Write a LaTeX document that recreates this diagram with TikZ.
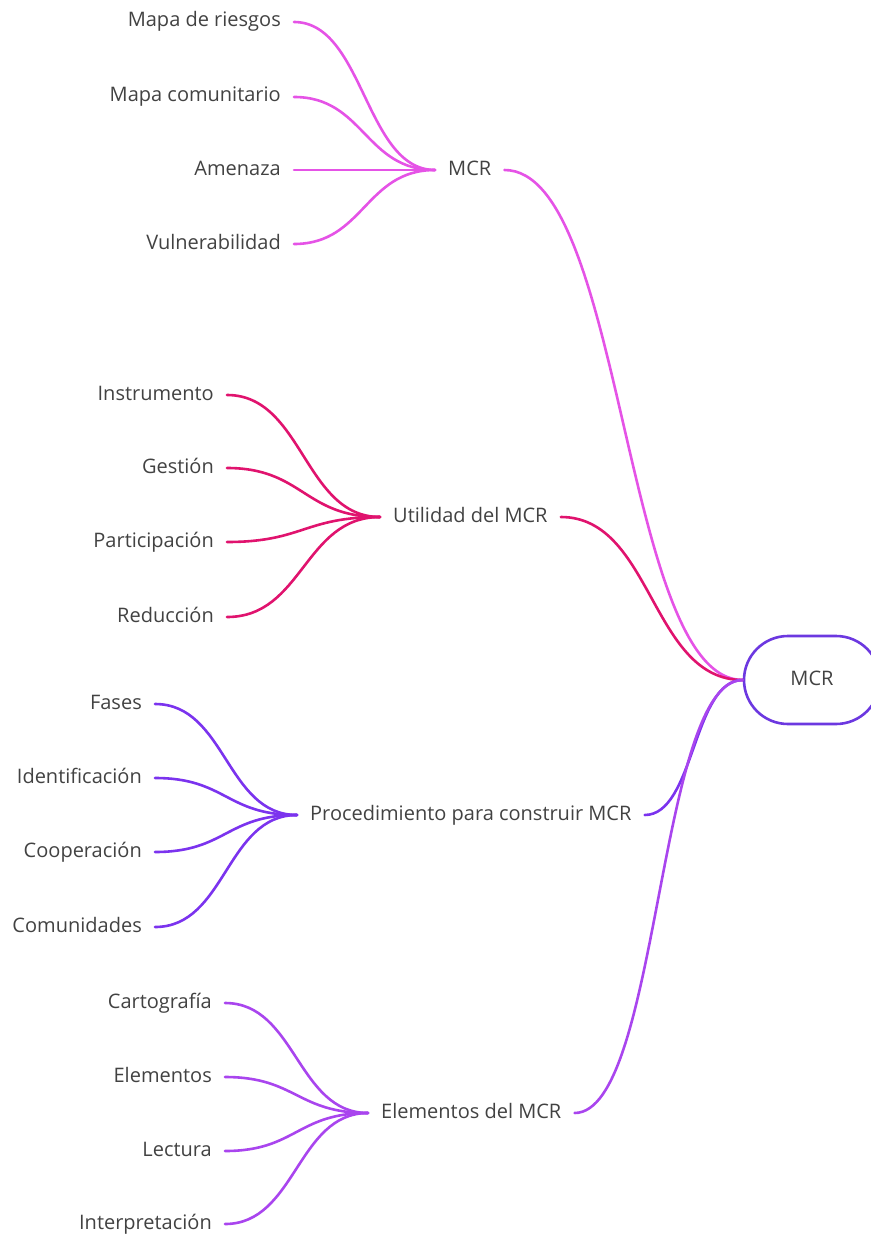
\documentclass[tikz,border=0pt]{standalone}
\usepackage{fontspec}
\setmainfont{Open Sans}
\begin{document}
\begin{tikzpicture}[x=1pt,y=-1pt,
  txt/.style={font=\fontsize{20}{24}\selectfont, text=black!74, inner xsep=13pt, inner ysep=0pt, text height=14.5pt, text depth=4.5pt},
  leaf/.style={txt, anchor=east},
  hub/.style={txt, anchor=west},
  conn/.style={line width=2.6pt, line cap=round},
  rootbox/.style={draw=rootc, line width=2.6pt, rounded corners=44pt, minimum width=136pt, minimum height=88pt, font=\fontsize{20}{24}\selectfont, text=black!74, text height=14.5pt, text depth=4.5pt}
]
\definecolor{ga}{HTML}{E553E6}
\definecolor{gb}{HTML}{E0136E}
\definecolor{gc}{HTML}{7B33EE}
\definecolor{gd}{HTML}{A945EE}
\definecolor{rootc}{HTML}{6C38E0}
\useasboundingbox (0,0) rectangle (870,1236);

% root
\node[rootbox] (root) at (812,680) {MCR};

% group 1
\node[hub] (h1) at (435,170) {MCR};
\node[leaf] (a1) at (294,22) {Mapa de riesgos};
\node[leaf] (a2) at (294,97) {Mapa comunitario};
\node[leaf] (a3) at (294,170) {Amenaza};
\node[leaf] (a4) at (294,244) {Vulnerabilidad};

% group 2
\node[hub] (h2) at (380,517) {Utilidad del MCR};
\node[leaf] (b1) at (227,395) {Instrumento};
\node[leaf] (b2) at (227,468) {Gestión};
\node[leaf] (b3) at (227,542) {Participación};
\node[leaf] (b4) at (227,617) {Reducción};

% group 3
\node[hub] (h3) at (297,815) {Procedimiento para construir MCR};
\node[leaf] (c1) at (155,704) {Fases};
\node[leaf] (c2) at (155,778) {Identificación};
\node[leaf] (c3) at (155,852) {Cooperación};
\node[leaf] (c4) at (155,927) {Comunidades};

% group 4
\node[hub] (h4) at (368,1113) {Elementos del MCR};
\node[leaf] (d1) at (225,1003) {Cartografía};
\node[leaf] (d2) at (225,1077) {Elementos};
\node[leaf] (d3) at (225,1151) {Lectura};
\node[leaf] (d4) at (225,1224) {Interpretación};

% leaf connectors
\foreach \l in {a1,a2,a3,a4}
  \draw[conn, ga] (\l.east) .. controls +(70,0) and +(-70,0) .. (h1.west);
\foreach \l in {b1,b2,b3,b4}
  \draw[conn, gb] (\l.east) .. controls +(76,0) and +(-76,0) .. (h2.west);
\foreach \l in {c1,c2,c3,c4}
  \draw[conn, gc] (\l.east) .. controls +(71,0) and +(-71,0) .. (h3.west);
\foreach \l in {d1,d2,d3,d4}
  \draw[conn, gd] (\l.east) .. controls +(71,0) and +(-71,0) .. (h4.west);

% root connectors
\draw[conn, ga] (h1.east) .. controls +(120,0) and +(-120,0) .. (root.west);
\draw[conn, gb] (h2.east) .. controls +(92,0) and +(-92,0) .. (root.west);
\draw[conn, gc] (h3.east) .. controls +(50,0) and +(-50,0) .. (root.west);
\draw[conn, gd] (h4.east) .. controls +(85,0) and +(-85,0) .. (root.west);
\end{tikzpicture}
\end{document}
